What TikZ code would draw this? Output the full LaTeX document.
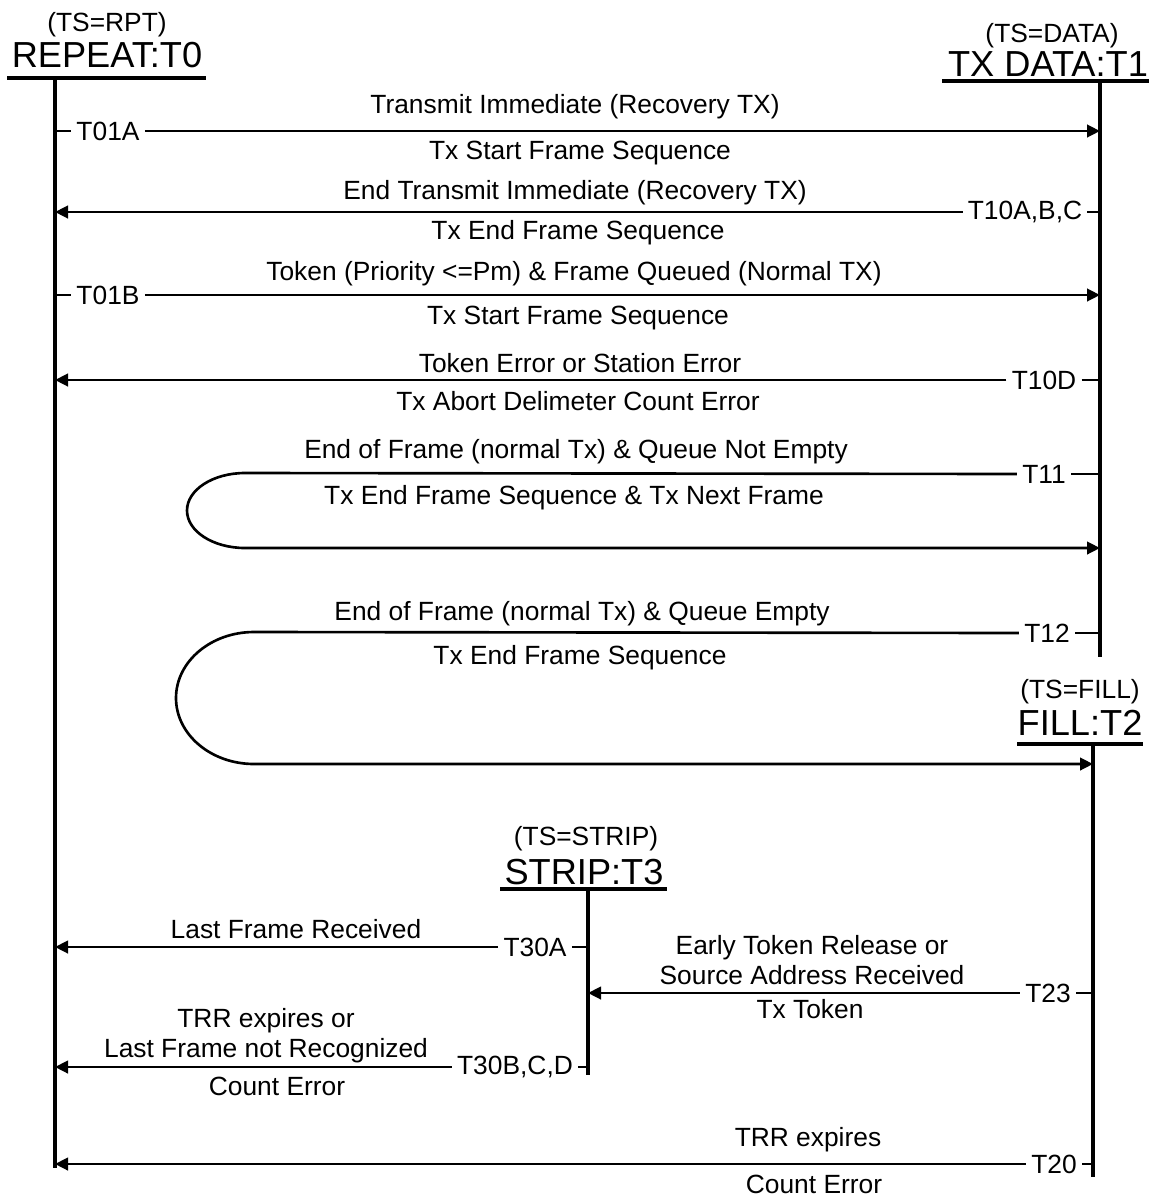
\documentclass[tikz,border=0pt]{standalone}
\usepackage{fontspec}
\setmainfont{Liberation Sans}
\usetikzlibrary{arrows.meta}
\begin{document}
\begin{tikzpicture}[x=0.2mm, y=-0.2mm, font=\fontsize{15}{17}\selectfont, line join=round, >={Triangle[length=2.6mm, width=2.5mm]},
		txt/.style={anchor=base, inner sep=0pt},
		ttl/.style={anchor=base, inner sep=0pt, font=\fontsize{20.6}{23}\selectfont},
		tid/.style={inner xsep=1mm, inner ysep=0pt},
		state/.style={line width=2.2pt},
		trans/.style={line width=1.5pt}]
	
	\useasboundingbox (0,0) rectangle (1157,1199);
	
	\path 
		(55,78) coordinate (T0top)
		(55,1168) coordinate (T0bot)
		(1100,81) coordinate (T1top)
		(1100,657) coordinate (T1bot)
		(1093,744) coordinate (T2top)
		(1093,1177) coordinate (T2bot)
		(588,889) coordinate (T3top)
		(588,1075) coordinate (T3bot)
		(7,78) coordinate (U0a) (206,78) coordinate (U0b)
		(942,81) coordinate (U1a) (1149,81) coordinate (U1b)
		(1017,744) coordinate (U2a) (1143,744) coordinate (U2b)
		(500,889) coordinate (U3a) (667,889) coordinate (U3b)
		(245,473) coordinate (L11a)
		(245,548) coordinate (L11b)
		(254,632) coordinate (L12a)
		(254,764) coordinate (L12b)
	;
	
	% states
	\node[txt] (rpt) at (107,31) {(TS=RPT)};
	\node[ttl] (S0) at (107,67) {REPEAT:T0};
	\node[txt] (data) at (1052,42) {(TS=DATA)};
	\node[ttl] (S1) at (1048,76) {TX DATA:T1};
	\node[txt] (fill) at (1080,698) {(TS=FILL)};
	\node[ttl] (S2) at (1080,735) {FILL:T2};
	\node[txt] (strip) at (586,845) {(TS=STRIP)};
	\node[ttl] (S3) at (584,884) {STRIP:T3};
	
	\draw[line width=2pt] 
		(U0a) -- (U0b)
		(U1a) -- (U1b)
		(U2a) -- (U2b)
		(U3a) -- (U3b)
	;
	\draw[state] 
		(T0top) -- (T0bot)
		(T1top) -- (T1bot)
		(T2top) -- (T2bot)
		(T3top) -- (T3bot)
	;
	
	% transition names
	\node[tid] (T01A) at (108,131) {T01A};
	\node[tid] (T10ABC) at (1025,212) {T10A,B,C};
	\node[tid] (T01B) at (108,295) {T01B};
	\node[tid] (T10D) at (1044,380) {T10D};
	\node[tid] (T11) at (1044,474) {T11};
	\node[tid] (T12) at (1047,633) {T12};
	\node[tid] (T30A) at (535,947) {T30A};
	\node[tid] (T23) at (1048,993) {T23};
	\node[tid] (T30BCD) at (515,1067) {T30B,C,D};
	\node[tid] (T20) at (1054,1164) {T20};
	
	% conditions and actions
	\node[txt] (a1) at (575,113) {Transmit Immediate (Recovery TX)};
	\node[txt] (a2) at (580,159) {Tx Start Frame Sequence};
	\node[txt] (b1) at (575,199) {End Transmit Immediate (Recovery TX)};
	\node[txt] (b2) at (578,239) {Tx End Frame Sequence};
	\node[txt] (c1) at (574,280) {Token (Priority <=Pm) \& Frame Queued (Normal TX)};
	\node[txt] (c2) at (578,324) {Tx Start Frame Sequence};
	\node[txt] (d1) at (580,372) {Token Error or Station Error};
	\node[txt] (d2) at (578,410) {Tx Abort Delimeter Count Error};
	\node[txt] (e1) at (576,458) {End of Frame (normal Tx) \& Queue Not Empty};
	\node[txt] (e2) at (574,504) {Tx End Frame Sequence \& Tx Next Frame};
	\node[txt] (f1) at (582,620) {End of Frame (normal Tx) \& Queue Empty};
	\node[txt] (f2) at (580,664) {Tx End Frame Sequence};
	\node[txt] (g1) at (296,938) {Last Frame Received};
	\node[txt] (h1) at (812,954) {Early Token Release or};
	\node[txt] (h2) at (812,984) {Source Address Received};
	\node[txt] (h3) at (810,1018) {Tx Token};
	\node[txt] (i1) at (266,1027) {TRR expires or};
	\node[txt] (i2) at (266,1057) {Last Frame not Recognized};
	\node[txt] (i3) at (277,1095) {Count Error};
	\node[txt] (j1) at (808,1146) {TRR expires};
	\node[txt] (j2) at (814,1193) {Count Error};
	
	% ticks
	\draw[trans] 
		(T01A.west -| T0top) -- (T01A.west)
		(T01B.west -| T0top) -- (T01B.west)
		(T10ABC.east) -- (T10ABC.east -| T1top)
		(T10D.east) -- (T10D.east -| T1top)
		(T11.east) -- (T11.east -| T1top)
		(T12.east) -- (T12.east -| T1top)
		(T30A.east) -- (T30A.east -| T3top)
		(T30BCD.east) -- (T30BCD.east -| T3top)
		(T23.east) -- (T23.east -| T2top)
		(T20.east) -- (T20.east -| T2top)
	;
	
	% arrows
	\draw[trans, ->] (T01A.east) -- (T01A.east -| T1top);
	\draw[trans, ->] (T10ABC.west) -- (T10ABC.west -| T0top);
	\draw[trans, ->] (T01B.east) -- (T01B.east -| T1top);
	\draw[trans, ->] (T10D.west) -- (T10D.west -| T0top);
	\draw[trans, ->] (T11.west) -- (L11a) arc[start angle=-90, end angle=-270, x radius=58, y radius=37.5] -- (L11b -| T1top);
	\draw[trans, ->] (T12.west) -- (L12a) arc[start angle=-90, end angle=-270, x radius=78, y radius=66] -- (L12b -| T2top);
	\draw[trans, ->] (T30A.west) -- (T30A.west -| T0top);
	\draw[trans, ->] (T23.west) -- (T23.west -| T3top);
	\draw[trans, ->] (T30BCD.west) -- (T30BCD.west -| T0top);
	\draw[trans, ->] (T20.west) -- (T20.west -| T0top);
	
\end{tikzpicture}
\end{document}
